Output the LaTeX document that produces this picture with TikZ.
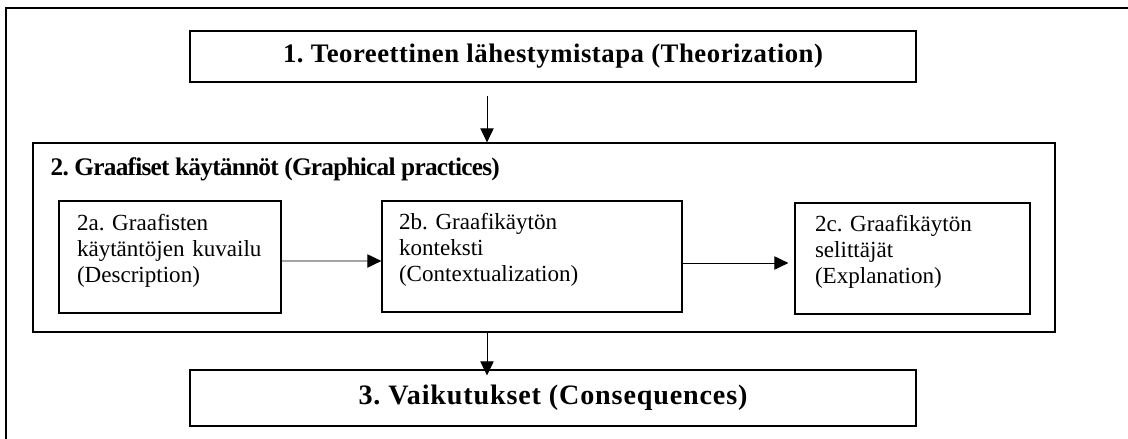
\documentclass[tikz,border=0pt]{standalone}
\usepackage{fontspec}
\setmainfont{Liberation Serif}
\usetikzlibrary{arrows.meta}
\tikzset{every picture/.style={line width=0.9pt},
  box/.style={draw,inner sep=0pt,font=\fontsize{19}{22}\selectfont\bfseries},
  subbox/.style={draw,align=left,inner ysep=0pt,text depth=1.75cm,font=\fontsize{16.4}{18.5}\selectfont},
  arr/.style={line width=0.7pt,-{Triangle[length=10pt,width=9.5pt]}}}

\begin{document}
\frenchspacing
\begin{tikzpicture}[x=0.025cm,y=-0.025cm]
\useasboundingbox (0,0) rectangle (1128,439);
\draw (1140,8) -- (6,8) -- (6,450);
\node[box,minimum width=726*0.025cm,minimum height=51*0.025cm] (theory) at (553,56.5) {\addfontfeature{LetterSpace=2}1. Teoreettinen lähestymistapa (Theorization)};
\node[box,minimum width=1022*0.025cm,minimum height=189*0.025cm] (graph) at (544,237.5) {};
\node[anchor=west,inner sep=0pt,font=\fontsize{18}{22}\selectfont\bfseries] (graphtitle) at (50,169) {\addfontfeature{LetterSpace=-3}2. Graafiset käytännöt (Graphical practices)};
\node[subbox,inner xsep=18*0.025cm,text width=186*0.025cm,minimum height=112*0.025cm] (descr) at (170,257) {2a. Graafisten\\käytäntöjen kuvailu\\(Description)};
\node[subbox,inner xsep=17*0.025cm,text width=266*0.025cm,minimum height=111*0.025cm] (context) at (532,256.5) {2b. Graafikäytön\\konteksti\\(Contextualization)};
\node[subbox,inner xsep=20*0.025cm,text width=195*0.025cm,minimum height=111*0.025cm] (expl) at (912.5,258.5) {2c. Graafikäytön\\selittäjät\\(Explanation)};
\node[box,minimum width=726*0.025cm,minimum height=56*0.025cm,font=\fontsize{20}{22}\selectfont\bfseries] (conseq) at (553,398) {\addfontfeature{LetterSpace=3}3. Vaikutukset (Consequences)};
\coordinate (down) at (487,96);
\draw[arr] (down) -- (down |- graph.north);
\draw[arr] ([yshift=-4*0.025cm]descr.east) -- ([yshift=-4.5*0.025cm]context.west);
\draw[arr] ([yshift=-6.5*0.025cm]context.east) -- ([xshift=-6*0.025cm,yshift=-4.5*0.025cm]expl.west);
\draw[arr] (graph.south -| down) -- ([yshift=-6*0.025cm]conseq.north -| down);
\end{tikzpicture}
\end{document}
